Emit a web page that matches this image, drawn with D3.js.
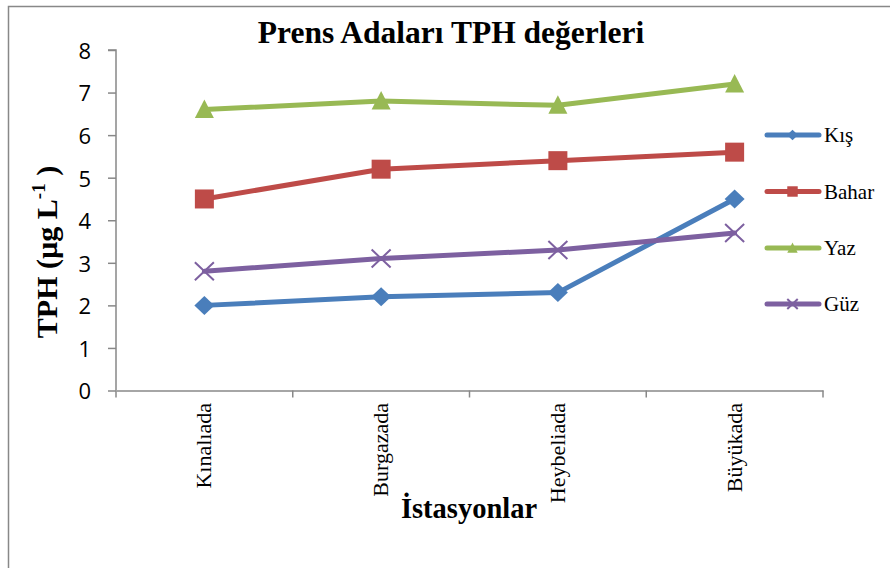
<!DOCTYPE html>
<html><head><meta charset="utf-8">
<script src="https://cdn.jsdelivr.net/npm/d3@7/dist/d3.min.js"></script>
<style>body{margin:0;background:#fff}svg{display:block}</style>
</head><body>
<svg id="c" width="890" height="568"></svg>
<script>
const categories = ["Kınalıada", "Burgazada", "Heybeliada", "Büyükada"];
const seriesNames = ["Kış", "Bahar", "Yaz", "Güz"];
const kis = [2.0, 2.2, 2.3, 4.5];
const bahar = [4.5, 5.2, 5.4, 5.6];
const yaz = [6.6, 6.8, 6.7, 7.2];
const guz = [2.8, 3.1, 3.3, 3.7];
const yTicks = [0, 1, 2, 3, 4, 5, 6, 7, 8];
const colors = ["#4A7EBB", "#BE4B48", "#98B954", "#7D60A0"];
const symbols = ["diamond", "square", "triangle", "cross"];
const series = [kis, bahar, yaz, guz].map((v, i) => ({name: seriesNames[i], values: v, color: colors[i], sym: symbols[i]}));

const serif = "'Liberation Serif', 'Times New Roman', serif";
const svg = d3.select("#c");
// outer frame
svg.append("rect").attr("x", 8.5).attr("y", 6.5).attr("width", 900).attr("height", 600)
  .attr("fill", "none").attr("stroke", "#888").attr("stroke-width", 1.5);

const x0 = 116, x1 = 823, yTop = 50, yBot = 390.5;
const x = d3.scaleBand().domain(categories).range([x0, x1]);
const y = d3.scaleLinear().domain([0, 8]).range([yBot, yTop]);

// y axis
const ya = svg.append("g").attr("transform", `translate(${x0},0)`)
  .call(d3.axisLeft(y).tickValues(yTicks).tickSize(8).tickPadding(17).tickFormat(d3.format("d")));
ya.select(".domain").attr("stroke", "#888").attr("stroke-width", 1.5).attr("d", `M-8,${yTop}H0V${yBot}`);
ya.selectAll(".tick line").attr("stroke", "#888").attr("stroke-width", 1.5);
ya.selectAll(".tick text").attr("font-family", "'Open Sans', 'Liberation Sans', sans-serif").attr("font-size", 22).attr("fill", "#000").attr("dy", "0.38em");

// x axis
const xa = svg.append("g").attr("transform", `translate(0,${yBot})`)
  .call(d3.axisBottom(x).tickSize(0).tickPadding(0));
xa.select(".domain").attr("stroke", "#888").attr("stroke-width", 1.5);
xa.selectAll(".tick text").remove();
xa.selectAll(".tick line").remove();
// tick marks at band boundaries
const bounds = categories.map(c => x(c)).concat([x1]);
svg.append("g").selectAll("line").data(bounds).join("line")
  .attr("x1", d => d).attr("x2", d => d).attr("y1", yBot).attr("y2", yBot + 7)
  .attr("stroke", "#888").attr("stroke-width", 1.5);
// rotated category labels
svg.append("g").selectAll("text").data(categories).join("text")
  .attr("transform", d => `translate(${x(d) + x.bandwidth() / 2 + 7},403) rotate(-90)`)
  .attr("text-anchor", "end")
  .attr("font-family", serif).attr("font-size", 22)
  .text(d => d);

// titles
svg.append("text").attr("x", 451).attr("y", 43).attr("text-anchor", "middle")
  .attr("font-family", serif).attr("font-weight", "bold").attr("font-size", 31.5)
  .text("Prens Adaları TPH değerleri");
svg.append("text").attr("x", 469).attr("y", 518).attr("text-anchor", "middle")
  .attr("font-family", serif).attr("font-weight", "bold").attr("font-size", 28.5)
  .text("İstasyonlar");
const yl = svg.append("text").attr("transform", "translate(57,252) rotate(-90)").attr("text-anchor", "middle")
  .attr("font-family", serif).attr("font-weight", "bold").attr("font-size", 30);
yl.append("tspan").text("TPH (µg L");
yl.append("tspan").attr("dy", -12).attr("font-size", 19).text("-1");
yl.append("tspan").attr("dy", 12).text("  )");

// markers
function marker(g, sym, cx, cy, color, s) {
  if (sym === "diamond") {
    g.append("path").attr("d", `M${cx},${cy - 9.5 * s}L${cx + 10 * s},${cy}L${cx},${cy + 9.5 * s}L${cx - 10 * s},${cy}Z`).attr("fill", color);
  } else if (sym === "square") {
    g.append("rect").attr("x", cx - 9.5 * s).attr("y", cy - 9.5 * s).attr("width", 19 * s).attr("height", 19 * s).attr("fill", color);
  } else if (sym === "triangle") {
    g.append("path").attr("d", `M${cx},${cy - 10 * s}L${cx + 9.5 * s},${cy + 8.5 * s}L${cx - 9.5 * s},${cy + 8.5 * s}Z`).attr("fill", color);
  } else {
    g.append("path").attr("d", `M${cx - 9.5 * s},${cy - 9 * s}L${cx + 9.5 * s},${cy + 9 * s}M${cx + 9.5 * s},${cy - 9 * s}L${cx - 9.5 * s},${cy + 9 * s}`)
      .attr("stroke", color).attr("stroke-width", 2).attr("fill", "none");
  }
}

const line = d3.line().x((d, i) => x(categories[i]) + x.bandwidth() / 2).y(d => y(d));
series.forEach(s => {
  const g = svg.append("g");
  g.append("path").attr("d", line(s.values)).attr("fill", "none").attr("stroke", s.color)
    .attr("stroke-width", 5).attr("stroke-linejoin", "round").attr("stroke-linecap", "round");
  s.values.forEach((v, i) => marker(g, s.sym, x(categories[i]) + x.bandwidth() / 2, y(v), s.color, 1));
});

// legend
const legY = [135, 191.5, 248, 304];
series.forEach((s, i) => {
  const g = svg.append("g");
  const ly = legY[i];
  g.append("line").attr("x1", 767).attr("x2", 819).attr("y1", ly).attr("y2", ly)
    .attr("stroke", s.color).attr("stroke-width", 5).attr("stroke-linecap", "round");
  marker(g, s.sym, 792.5, ly, s.color, 0.55);
  g.append("text").attr("x", 824).attr("y", ly + 7)
    .attr("font-family", serif).attr("font-size", 21).text(s.name);
});
</script>
</body></html>
